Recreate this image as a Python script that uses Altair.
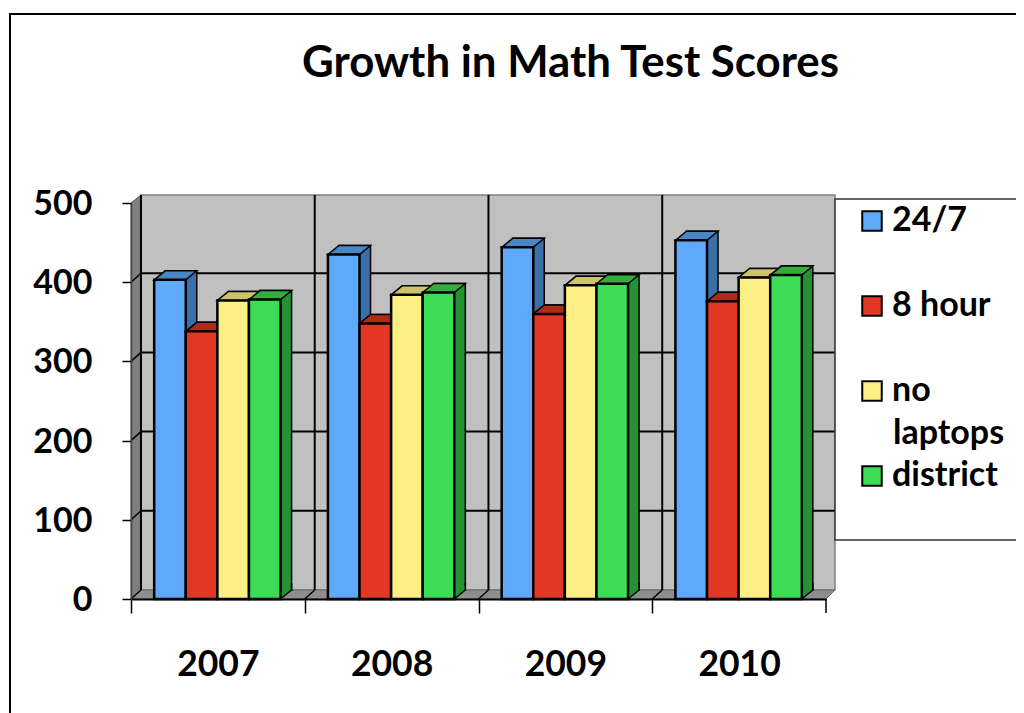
import altair as alt
import pandas as pd

years = ["2007", "2008", "2009", "2010"]
series = ["24/7", "8 hour", "no laptops", "district"]
v_247 = [403, 435, 444, 453]
v_8h = [338, 348, 360, 376]
v_nl = [377, 384, 396, 406]
v_dist = [378, 387, 398, 409]
front = ["#5fa9fb", "#e23723", "#feef85", "#3cdc55"]
side = ["#3a6fa8", "#a82a18", "#c9bd62", "#249133"]
top = ["#4a86c5", "#b02a18", "#cdc36a", "#33ad3e"]
ticks = [0, 100, 200, 300, 400, 500]

PW, PH = 695, 396
FONT = "Lato"

rows = []
for vals, s in zip([v_247, v_8h, v_nl, v_dist], series):
    for y, v in zip(years, vals):
        rows.append({"year": y, "series": s, "value": v})
df = pd.DataFrame(rows)
one = pd.DataFrame({"a": [0]})
tick_df = pd.DataFrame({"tick": ticks})
year_df = pd.DataFrame({"year": years})

yscale = alt.Scale(domain=[0, 500], nice=False)
xscale = alt.Scale(domain=years, paddingInner=0.272, paddingOuter=0.136)
YAX = alt.Axis(
    values=ticks, title=None, tickSize=9, tickWidth=1.5, tickColor="black", domain=True,
    domainColor="#444444", domainWidth=1.5, labelFont=FONT, labelFontSize=34, labelFontWeight="bold",
    labelColor="black", labelPadding=30, labelOffset=1.5, grid=False, zindex=1)
XAX = alt.Axis(
    title=None, labelAngle=0, tickBand="center", tickOffset=-86.875, labelOffset=86.875, tickSize=14,
    tickWidth=1.5, tickColor="black", domain=True, domainColor="black", domainWidth=2, labelFont=FONT,
    labelFontSize=35.5, labelFontWeight="bold", labelColor="black", labelPadding=34, grid=False, zindex=1)
LEG = alt.Legend(
    orient="none", legendX=724, legendY=1, title=None, symbolType="square", symbolSize=380,
    symbolStrokeColor="black", symbolStrokeWidth=2, symbolOpacity=1, labelFont=FONT, labelFontSize=34,
    labelFontWeight="bold", labelColor="black", labelLimit=200, rowPadding=51, labelOffset=3,
    labelExpr="datum.label == 'no laptops' ? 'no' : datum.label",
    labelBaseline="middle", padding=0)
X = alt.X("year:N", scale=xscale, axis=XAX)
Y = alt.Y("value:Q", scale=yscale, axis=YAX)
YT = alt.Y("tick:Q", scale=yscale, axis=YAX)
FILL = alt.Fill("series:N", scale=alt.Scale(domain=series, range=front), sort=series, legend=LEG)


def shape_pt(path, fill=None, stroke=None, sw=0, **extra):
    kw = dict(shape=path, size=4, opacity=1, strokeWidth=sw, **extra)
    if fill:
        kw.update(filled=True, fill=fill)
    else:
        kw.update(filled=False, fill="transparent")
    if stroke:
        kw["stroke"] = stroke
    return kw


layers = []
# frame
layers.append(alt.Chart(one).mark_rect(fill="white", fillOpacity=0, stroke="black", strokeWidth=2).encode(
    x=alt.value(-121), x2=alt.value(1100), y=alt.value(-189), y2=alt.value(800)))
# back wall
layers.append(alt.Chart(one).mark_rect(fill="#c0c0c0", stroke="#808080", strokeWidth=1.5).encode(
    x=alt.value(10), x2=alt.value(704), y=alt.value(-8), y2=alt.value(387)))
# left wall and floor
layers.append(alt.Chart(one).mark_point(**shape_pt("M0,0 L10,-9 L10,-404 L0,-396 Z", "#7f7f7f", "#555555", 1)).encode(
    x=alt.value(0), y=alt.value(PH)))
layers.append(alt.Chart(one).mark_point(**shape_pt("M0,0 L10,-9 L704,-9 L695,0 Z", "#8e8e8e", "#666666", 1)).encode(
    x=alt.value(0), y=alt.value(PH)))
# wall gridlines
grid = tick_df[(tick_df.tick > 0) & (tick_df.tick < 500)]
layers.append(alt.Chart(grid).mark_rule(color="black", strokeWidth=2, yOffset=-9).encode(
    y=YT, x=alt.value(10), x2=alt.value(704)))
layers.append(alt.Chart(grid).mark_point(**shape_pt("M0,0 L10,-9", None, "black", 1.5)).encode(
    y=YT, x=alt.value(0)))
# wall verticals
layers.append(alt.Chart(year_df).mark_rule(color="black", strokeWidth=2, xOffset=-76.9).encode(
    x=X, y=alt.value(-8), y2=alt.value(387)))
layers.append(alt.Chart(year_df).mark_point(**shape_pt("M-86.9,0 L-76.9,-9", None, "black", 1.5)).encode(
    x=X, y=alt.value(PH)))
# closing tick of the category axis
layers.append(alt.Chart(year_df[year_df.year == years[-1]]).mark_rule(color="black", strokeWidth=1.5, xOffset=86.875).encode(
    x=X, y=alt.value(PH), y2=alt.value(PH + 14)))

W = 31.6
h = W / 2
for i, s in enumerate(series):
    d = df[df.series == s]
    base = alt.Chart(d)
    o = (i - 1.5) * W - 0.5
    layers.append(base.mark_bar(width=W, fill=side[i], stroke="black", strokeWidth=1.5, xOffset=o + 11, yOffset=-9).encode(x=X, y=Y))
    layers.append(base.mark_point(**shape_pt(f"M{h},0 L{h+11},-9 L{h+11},-13 L{h},-13 Z", side[i], xOffset=o)).encode(x=X, y=alt.value(PH)))
    layers.append(base.mark_point(**shape_pt(f"M{h},0 L{h+11},-9 L{h+11},-16", None, "black", 1.5, xOffset=o)).encode(x=X, y=alt.value(PH)))
    layers.append(base.mark_point(**shape_pt(f"M{-h},0 L{-h+11},-9 L{h+11},-9 L{h},0 Z", top[i], "black", 1.5, xOffset=o)).encode(x=X, y=Y))
    layers.append(base.mark_bar(width=W, stroke="black", strokeWidth=2.5, xOffset=o).encode(x=X, y=Y, fill=FILL))

# legend box
layers.append(alt.Chart(one).mark_rect(fill="white", stroke="#333333", strokeWidth=1.5).encode(
    x=alt.value(704), x2=alt.value(1000), y=alt.value(-4), y2=alt.value(337)))
# second line of the "no laptops" legend entry
layers.append(alt.Chart(one).mark_text(
    text="laptops", font=FONT, fontSize=34, fontWeight="bold", color="black", align="left", baseline="middle"
).encode(x=alt.value(762), y=alt.value(231)))

chart = alt.layer(*layers).properties(
    width=PW, height=PH,
    padding={"left": 123, "top": 195, "right": 190, "bottom": 114},
    autosize=alt.AutoSizeParams(type="none"),
    title=alt.TitleParams(
        "Growth in Math Test Scores", font=FONT, fontSize=43.8, fontWeight="bold", color="black",
        anchor="start", dx=293, offset=0, dy=108, baseline="alphabetic"),
).configure_view(stroke=None).configure(background="white")

chart.save("out.html", embed_options={"renderer": "svg", "actions": False})
